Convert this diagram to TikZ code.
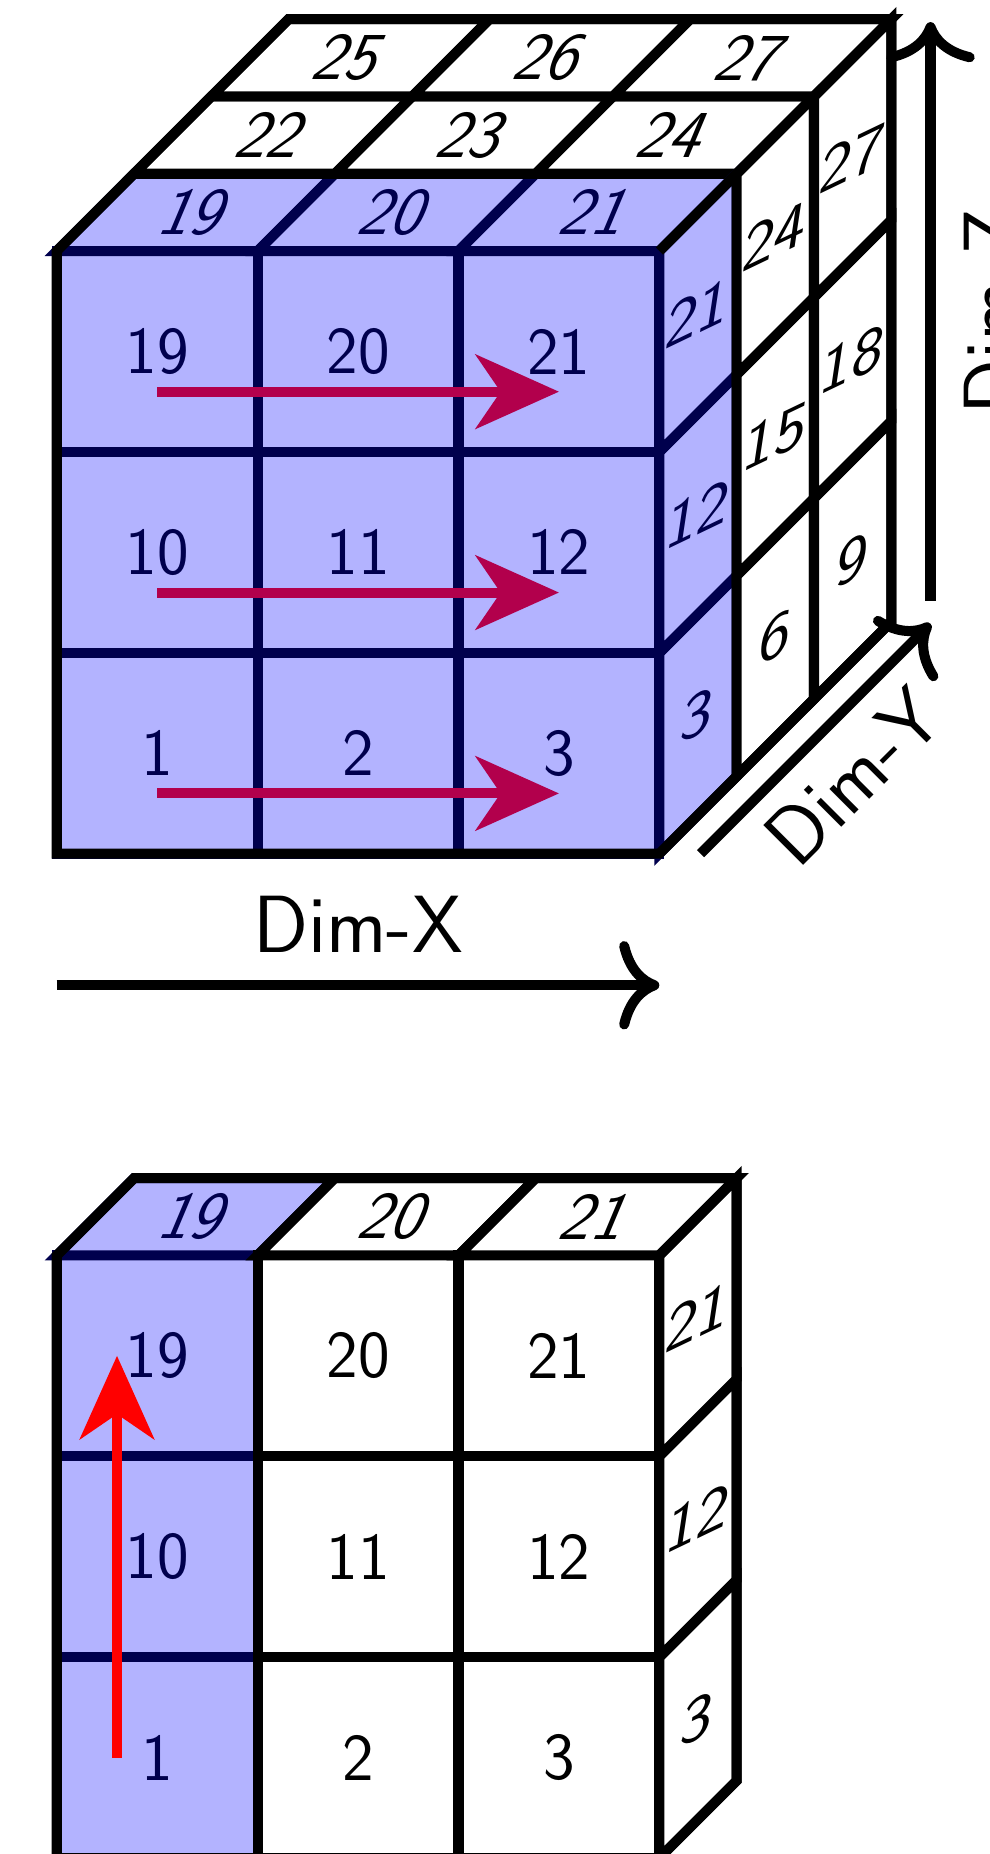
\documentclass[tikz,border=0pt]{standalone}
\usepackage{tikz}
\usetikzlibrary{arrows.meta, positioning, calc}
\definecolor{CellBlue}{RGB}{179,179,255}
\definecolor{CellNavy}{RGB}{0,0,77}
\definecolor{ScanRed}{RGB}{178,0,76}

\begin{document}
\begin{tikzpicture}[
    line width=1mm,
    blu/.style={fill=CellBlue,draw=CellNavy},
    wht/.style={fill=white,draw=black},
    fnum/.style={font=\fontsize{19}{23}\selectfont\sffamily,inner sep=0pt},
    tnum/.style={fnum,xslant=0.42},
    snum/.style={fnum,cm={1,0.48,0.15,1,(0,0)}},
    scan/.style={draw=#1,line width=1mm,-{Stealth[length=8.3mm,width=7.4mm,inset=2.5mm]}},
    dimarr/.style={-{Computer Modern Rightarrow[length=4mm,width=8.8mm]}},
    dimlab/.style={font=\fontsize{23}{28}\selectfont\sffamily,midway,inner sep=2.8mm}
  ]
  \useasboundingbox (-0.565,-9.96) rectangle (9.285,8.50);

  % upper cube, 3x3x3
  \foreach \i in {0,1,2}{
    \foreach \j in {0,1,2}{
      \draw[blu] (2*\i,2*\j) rectangle ++(2,2);
      \pgfmathtruncatemacro\n{1+\i+9*\j}
      \node[fnum,text=CellNavy] (uf\n) at (2*\i+1,2*\j+1) {\n};
    }
  }
  \foreach \k/\st/\tc in {0/blu/CellNavy,1/wht/black,2/wht/black}{
    \foreach \i in {0,1,2}{
      \draw[\st] (2*\i+0.77*\k,6+0.77*\k) -- ++(2,0) -- ++(0.77,0.77) -- ++(-2,0) -- cycle;
      \pgfmathtruncatemacro\n{19+\i+3*\k}
      \node[tnum,text=\tc] (ut\n) at (2*\i+1.385+0.77*\k,6.385+0.77*\k) {\n};
    }
  }
  \foreach \k/\st/\tc in {0/blu/CellNavy,1/wht/black,2/wht/black}{
    \foreach \j in {0,1,2}{
      \draw[\st] (6+0.77*\k,2*\j+0.77*\k) -- ++(0.77,0.77) -- ++(0,2) -- ++(-0.77,-0.77) -- cycle;
      \pgfmathtruncatemacro\n{3+3*\k+9*\j}
      \node[snum,text=\tc] (us\n) at (6.385+0.77*\k,2*\j+1.385+0.77*\k) {\n};
    }
  }
  \draw (0,0) -- (0,6) -- (2.31,8.31) -- (8.31,8.31) -- (8.31,2.31) -- (6,0) -- cycle;
  \draw (6,6) -- (8.31,8.31);

  % scan order along x
  \foreach \j in {0,1,2}{
    \coordinate (xa\j) at (1,2*\j+0.6);
    \coordinate (xb\j) at (5,2*\j+0.6);
    \draw[scan=ScanRed] (xa\j) -- (xb\j);
  }

  % axes
  \coordinate (dxa) at (0,-1.31);
  \coordinate (dxb) at (6,-1.31);
  \draw[dimarr] (dxa) -- (dxb) node[dimlab,above] (labx) {Dim-X};
  \coordinate (dya) at (6.41,0);
  \coordinate (dyb) at (8.7,2.29);
  \draw[dimarr] (dya) -- (dyb) node[dimlab,below,sloped,inner sep=2mm] (laby) {Dim-Y};
  \coordinate (dza) at (8.7,2.52);
  \coordinate (dzb) at (8.7,8.28);
  \draw[dimarr] (dza) -- (dzb) node[dimlab,below,sloped] (labz) {Dim-Z};

  % lower cube, one slice
  \begin{scope}[shift={(0,-10)}]
    \foreach \i/\st/\tc in {0/blu/CellNavy,1/wht/black,2/wht/black}{
      \foreach \j in {0,1,2}{
        \draw[\st] (2*\i,2*\j) rectangle ++(2,2);
        \pgfmathtruncatemacro\n{1+\i+9*\j}
        \node[fnum,text=\tc] (lf\n) at (2*\i+1,2*\j+1) {\n};
      }
      \draw[\st] (2*\i,6) -- ++(2,0) -- ++(0.77,0.77) -- ++(-2,0) -- cycle;
      \pgfmathtruncatemacro\n{19+\i}
      \node[tnum,text=\tc] (lt\n) at (2*\i+1.385,6.385) {\n};
    }
    \foreach \j in {0,1,2}{
      \draw[wht] (6,2*\j) -- ++(0.77,0.77) -- ++(0,2) -- ++(-0.77,-0.77) -- cycle;
      \pgfmathtruncatemacro\n{3+9*\j}
      \node[snum] (ls\n) at (6.385,2*\j+1.385) {\n};
    }
    \draw (0,0) -- (0,6) -- (0.77,6.77) -- (6.77,6.77) -- (6.77,0.77) -- (6,0) -- cycle;
    \draw (6,6) -- (6.77,6.77);
    \coordinate (ya) at (0.6,1);
    \coordinate (yb) at (0.6,5);
    \draw[scan=red] (ya) -- (yb);
  \end{scope}
\end{tikzpicture}
\end{document}
